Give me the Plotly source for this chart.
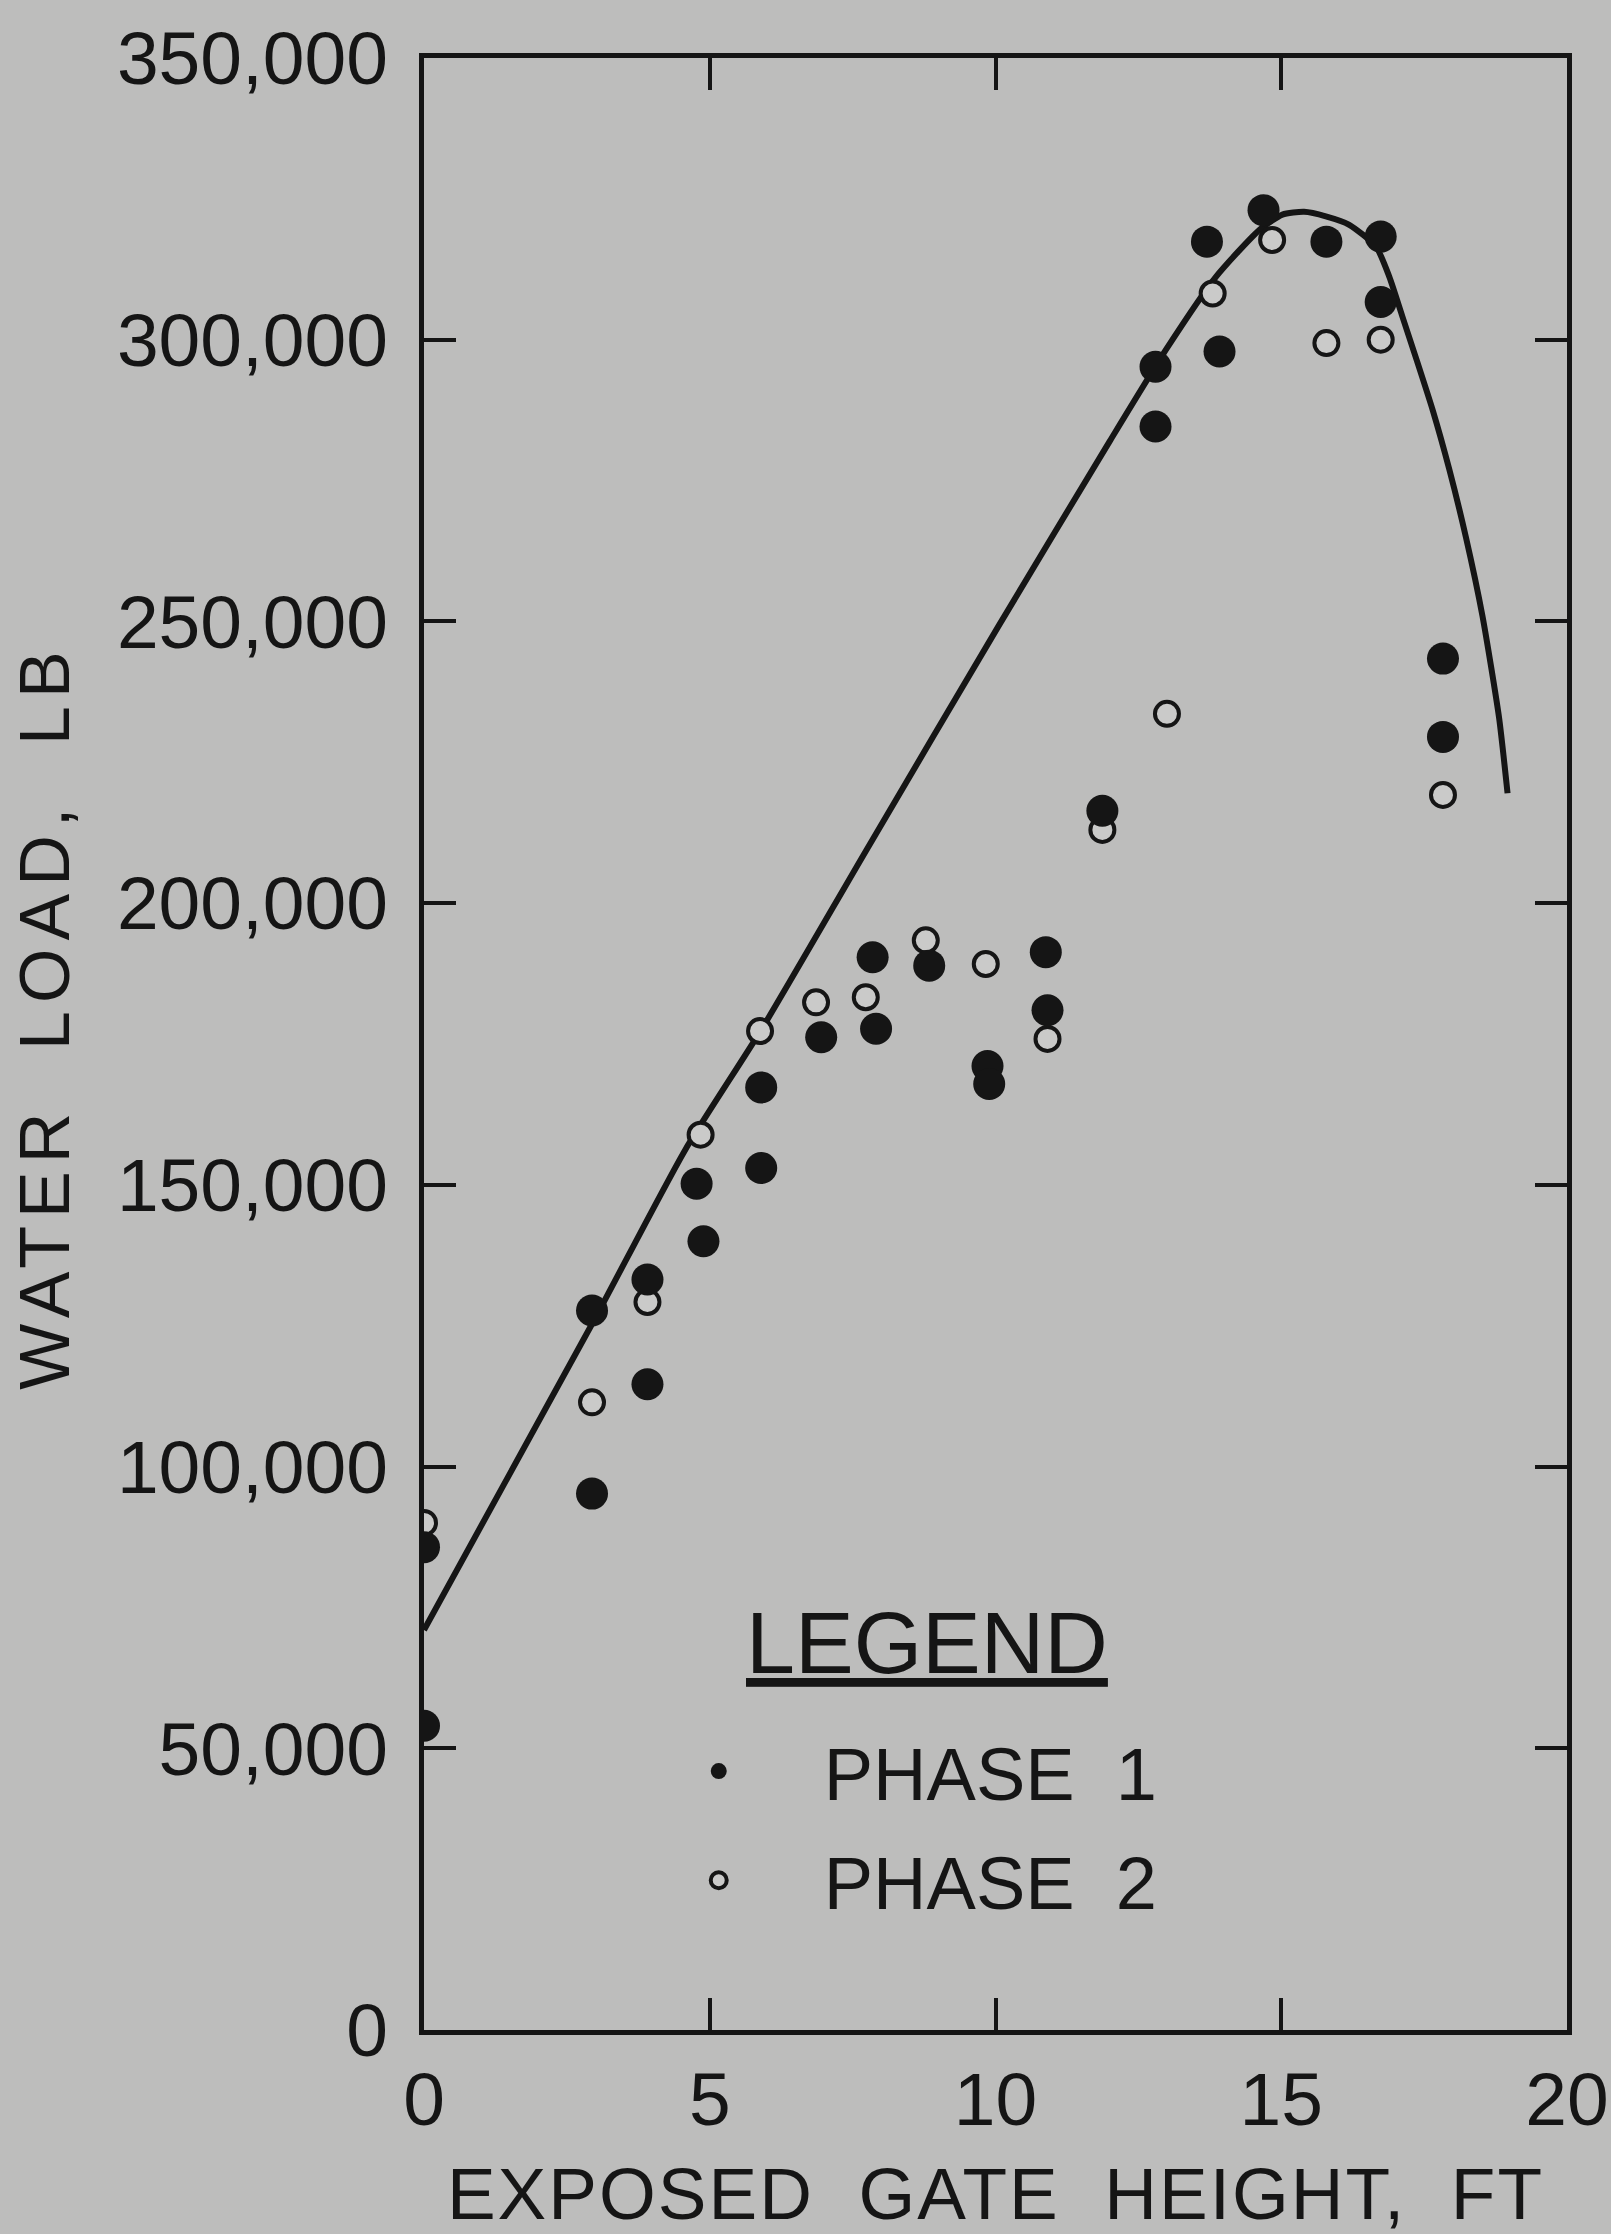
import plotly.graph_objects as go

# ---- data ----
phase1_x = [0, 0, 2.94, 2.94, 3.91, 3.91, 4.77, 4.89, 5.9, 5.9, 6.95, 7.85, 7.91, 8.84,
            9.86, 9.89, 10.88, 10.91, 11.87, 12.8, 12.8, 13.7, 13.92, 14.69, 15.79,
            16.74, 16.74, 17.83, 17.83]
phase1_y = [85700, 54000, 127700, 95200, 133200, 114600, 150200, 140000, 167300, 153000,
            176200, 190400, 177700, 188900, 171100, 167900, 191300, 181000, 216400,
            295200, 284600, 317400, 297900, 323000, 317400, 318300, 306700, 243400, 229500]

phase2_x = [0, 2.94, 3.91, 4.84, 5.88, 6.86, 7.73, 8.78, 9.83, 10.91, 11.87, 13.0, 13.8,
            14.84, 15.79, 16.74, 17.83]
phase2_y = [90000, 111400, 129200, 158900, 177300, 182400, 183300, 193400, 189200, 175900,
            213000, 233600, 308200, 317700, 299400, 300000, 219200]

curve_x = [0, 2.94, 4.57, 5.9, 7.74, 10.06, 12.0, 13.0, 13.86, 14.62, 15.02, 15.4, 15.78,
           16.19, 16.66, 16.89, 17.12, 17.35, 17.65, 17.94, 18.23, 18.52, 18.81, 18.96]
curve_y = [71000, 125300, 156200, 177500, 209400, 249300, 282000, 298500, 311200, 319500,
           322200, 322700, 321900, 320400, 316500, 311200, 304100, 297000, 287500, 277000,
           265000, 251000, 233000, 219500]

x_ticks = [0, 5, 10, 15, 20]
y_ticks = [0, 50000, 100000, 150000, 200000, 250000, 300000, 350000]

BG = "#bdbdbc"
INK = "#151515"
FONT = "Liberation Sans, Arial, Helvetica, sans-serif"

fig = go.Figure()

fig.add_trace(go.Scatter(
    x=curve_x, y=curve_y, mode="lines",
    line=dict(color=INK, width=6, shape="spline", smoothing=0.6),
    showlegend=False, hoverinfo="skip"))

fig.add_trace(go.Scatter(
    x=phase2_x, y=phase2_y, mode="markers", name="PHASE\u00a0\u00a02",
    marker=dict(symbol="circle", size=24, color="#cacac9",
                line=dict(color=INK, width=4)),
    legendrank=2, legendgroup="p2"))

fig.add_trace(go.Scatter(
    x=phase1_x, y=phase1_y, mode="markers", name="PHASE\u00a0\u00a01",
    marker=dict(symbol="circle", size=32, color=INK, line=dict(width=0)),
    legendrank=1, legendgroup="p1"))

axis_common = dict(
    showline=True, linecolor=INK, linewidth=5, mirror="ticks",
    ticks="inside", ticklen=32, tickwidth=4, tickcolor=INK,
    showgrid=False, zeroline=False,
    tickfont=dict(family=FONT, size=75, color=INK),
)

fig.update_layout(
    width=1611, height=2234,
    margin=dict(l=424, r=44, t=58, b=204, autoexpand=False),
    paper_bgcolor=BG, plot_bgcolor=BG,
    font=dict(family=FONT, color=INK),
    xaxis=dict(range=[0, 20], tickvals=x_ticks, ticklabelstandoff=0,
               title=dict(text="<span style='letter-spacing:2px'>EXPOSED\u00a0\u00a0GATE\u00a0\u00a0HEIGHT,\u00a0\u00a0FT</span>",
                          font=dict(family=FONT, size=73, color=INK), standoff=99),
               automargin=False, **axis_common),
    yaxis=dict(range=[0, 350000], tickvals=y_ticks, tickformat=",d", ticklabelstandoff=16,
               title=dict(text="<span style='letter-spacing:8px'>\u00a0\u00a0WATER\u00a0\u00a0LOAD,\u00a0\u00a0LB</span>",
                          font=dict(family=FONT, size=70, color=INK), standoff=26),
               automargin=False, **axis_common),
    legend=dict(
        x=0.166, y=0.159, xanchor="left", yanchor="top",
        bgcolor="rgba(0,0,0,0)", borderwidth=0,
        font=dict(family=FONT, size=74, color=INK),
        itemwidth=200, traceorder="grouped", tracegroupgap=10,
    ),
    annotations=[dict(
        text="<span style='text-decoration:underline'>LEGEND</span>",
        xref="paper", yref="paper", x=0.4397, y=0.1963,
        xanchor="center", yanchor="middle", showarrow=False,
        font=dict(family=FONT, size=88, color=INK))],
)

fig.write_html("out.html")
